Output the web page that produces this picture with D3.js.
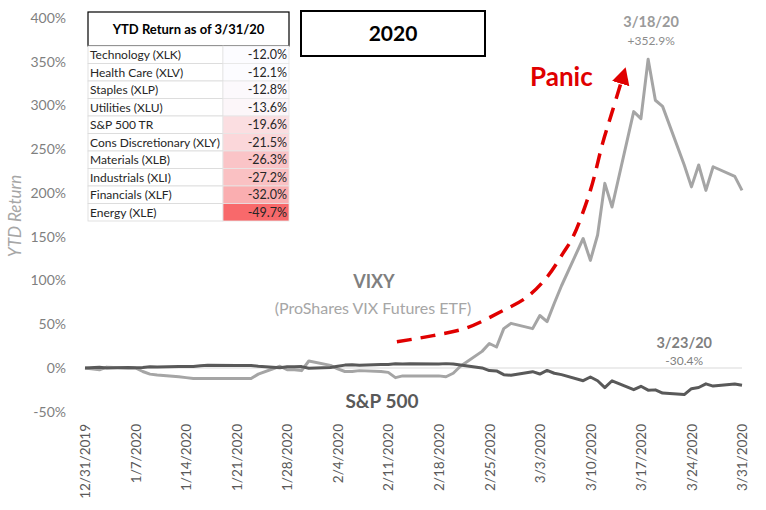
<!DOCTYPE html>
<html>
<head>
<meta charset="utf-8">
<script src="https://cdn.jsdelivr.net/npm/d3@7"></script>
<style>
body { margin: 0; background: #fff; }
svg text { font-family: Lato, "Open Sans", sans-serif; }
</style>
</head>
<body>
<svg id="chart" width="766" height="510"></svg>
<script>
// trading days, Q1 2020
const tradeDates = [
  "2019-12-31", "2020-01-02", "2020-01-03", "2020-01-06", "2020-01-07", "2020-01-08", "2020-01-09", "2020-01-10",
  "2020-01-13", "2020-01-14", "2020-01-15", "2020-01-16", "2020-01-17", "2020-01-21", "2020-01-22", "2020-01-23",
  "2020-01-24", "2020-01-27", "2020-01-28", "2020-01-29", "2020-01-30", "2020-01-31", "2020-02-03", "2020-02-04",
  "2020-02-05", "2020-02-06", "2020-02-07", "2020-02-10", "2020-02-11", "2020-02-12", "2020-02-13", "2020-02-14",
  "2020-02-18", "2020-02-19", "2020-02-20", "2020-02-21", "2020-02-24", "2020-02-25", "2020-02-26", "2020-02-27",
  "2020-02-28", "2020-03-02", "2020-03-03", "2020-03-04", "2020-03-05", "2020-03-06", "2020-03-09", "2020-03-10",
  "2020-03-11", "2020-03-12", "2020-03-13", "2020-03-16", "2020-03-17", "2020-03-18", "2020-03-19", "2020-03-20",
  "2020-03-23", "2020-03-24", "2020-03-25", "2020-03-26", "2020-03-27", "2020-03-30", "2020-03-31"
];
// YTD return, %
const vixyReturns = [
  0, -2, 1, 0, 0, -4, -7, -8,
  -10, -11, -12, -12, -12, -12, -12, -12,
  -7, 2, -2, -2, -3, 8, 3, -1,
  -4, -4, -3, -4, -5, -11, -9, -9,
  -9, -10, -6, 2, 19, 28, 24, 45,
  51, 45, 60, 53, 74, 94, 148, 123,
  152, 211, 184, 293, 285, 352.9, 306, 299,
  232, 207, 232, 203, 230, 219, 203
];
const spxReturns = [
  0, 0.8, 0.1, 0.5, 0.2, 0.7, 1.4, 1.1,
  1.8, 1.6, 1.8, 2.7, 3.1, 2.8, 2.8, 2.9,
  2.0, 0.4, 1.4, 1.3, 1.6, -0.2, 0.6, 2.1,
  3.3, 3.7, 3.1, 3.9, 4.1, 4.8, 4.6, 4.8,
  4.5, 5.0, 4.6, 3.5, 0.1, -2.9, -3.3, -7.6,
  -8.4, -4.2, -6.9, -2.8, -6.0, -7.6, -14.5, -10.3,
  -14.6, -22.4, -14.6, -24.8, -20.9, -25.3, -25.0, -28.7,
  -30.4, -23.6, -22.3, -18.1, -20.7, -18.2, -19.6
];

const tickLabels = ["12/31/2019", "1/7/2020", "1/14/2020", "1/21/2020", "1/28/2020", "2/4/2020", "2/11/2020",
  "2/18/2020", "2/25/2020", "3/3/2020", "3/10/2020", "3/17/2020", "3/24/2020", "3/31/2020"];
const yTicks = [-50, 0, 50, 100, 150, 200, 250, 300, 350, 400];

// sector table
const sectors = ["Technology (XLK)", "Health Care (XLV)", "Staples (XLP)", "Utilities (XLU)", "S&P 500 TR",
  "Cons Discretionary (XLY)", "Materials (XLB)", "Industrials (XLI)", "Financials (XLF)", "Energy (XLE)"];
const sectorReturns = [-12.0, -12.1, -12.8, -13.6, -19.6, -21.5, -26.3, -27.2, -32.0, -49.7];

// "panic" arrow, days after 12/31/19 and % level
const panicDays = [43.2, 48.2, 52.9, 57.5, 61.2, 64, 66.2, 67.6, 70, 71.7, 73.1, 74.2];
const panicValues = [30, 37, 46, 64, 81, 104, 131, 150, 203, 257, 295, 325];

const svg = d3.select("svg#chart");
const parseDay = d3.timeParse("%Y-%m-%d");
const parseTick = d3.timeParse("%m/%d/%Y");
const startDate = parseDay(tradeDates[0]);
const pct = d3.formatLocale({ decimal: ".", thousands: ",", grouping: [3], currency: ["", ""], minus: "-" }).format(".1f");

const x = d3.scaleTime()
  .domain([startDate, parseDay("2020-03-31")])
  .range([85, 742]);
const y = d3.scaleLinear().domain([-50, 400]).range([411.75, 18]);

const series = tradeDates.map((d, i) => ({ date: parseDay(d), vixy: vixyReturns[i], spx: spxReturns[i] }));

// y axis
svg.append("g")
  .attr("transform", "translate(85,0)")
  .call(d3.axisLeft(y).tickValues(yTicks).tickSize(0).tickPadding(19).tickFormat(d => d + "%"))
  .call(g => g.select(".domain").remove())
  .selectAll("text")
  .style("font-size", "14px")
  .attr("fill", "#7f7f7f");

svg.append("text")
  .attr("transform", "translate(21,216) rotate(-90)")
  .attr("text-anchor", "middle")
  .style("font-size", "17px")
  .style("font-style", "italic")
  .attr("fill", "#a6a6a6")
  .text("YTD Return");

// x axis
svg.append("g")
  .attr("transform", "translate(0,420)")
  .call(d3.axisBottom(x).tickValues(tickLabels.map(parseTick)).tickSize(0).tickFormat((d, i) => tickLabels[i]))
  .call(g => g.select(".domain").remove())
  .selectAll("text")
  .attr("transform", "rotate(-90)")
  .attr("x", -4)
  .attr("y", 0)
  .attr("dy", "0.35em")
  .style("text-anchor", "end")
  .style("font-size", "13.5px")
  .attr("fill", "#595959");

// zero line
svg.append("line")
  .attr("x1", x.range()[0]).attr("x2", x.range()[1])
  .attr("y1", y(0)).attr("y2", y(0))
  .attr("stroke", "#d9d9d9")
  .attr("stroke-width", 1);

// lines
const vixyLine = d3.line().x(d => x(d.date)).y(d => y(d.vixy));
const spxLine = d3.line().x(d => x(d.date)).y(d => y(d.spx));
svg.append("path").datum(series)
  .attr("d", vixyLine)
  .attr("fill", "none")
  .attr("stroke", "#a5a5a5")
  .attr("stroke-width", 3)
  .attr("stroke-linejoin", "round");
svg.append("path").datum(series)
  .attr("d", spxLine)
  .attr("fill", "none")
  .attr("stroke", "#595959")
  .attr("stroke-width", 3)
  .attr("stroke-linejoin", "round");

// panic arrow
const red = "#e00000";
svg.append("defs").append("marker")
  .attr("id", "arrow")
  .attr("markerUnits", "userSpaceOnUse")
  .attr("viewBox", "0 -9 17 18")
  .attr("refX", 0).attr("refY", 0)
  .attr("markerWidth", 17).attr("markerHeight", 18)
  .attr("orient", "auto")
  .append("path")
  .attr("d", "M0,-9L17,0L0,9Z")
  .attr("fill", red);

const panicPts = panicDays.map((d, i) => [x(new Date(startDate.getTime() + d * 864e5)), y(panicValues[i])]);
svg.append("path")
  .attr("d", d3.line().curve(d3.curveCatmullRom)(panicPts))
  .attr("fill", "none")
  .attr("stroke", red)
  .attr("stroke-width", 3.5)
  .attr("stroke-dasharray", "15,9")
  .attr("marker-end", "url(#arrow)");

svg.append("text")
  .attr("x", 530).attr("y", 86)
  .style("font-size", "26px").style("font-weight", "bold")
  .attr("fill", red)
  .text("Panic");

// series labels
svg.append("text")
  .attr("x", 374).attr("y", 288)
  .attr("text-anchor", "middle")
  .style("font-size", "18px").style("font-weight", "bold")
  .attr("fill", "#7f7f7f")
  .text("VIXY");
svg.append("text")
  .attr("x", 373).attr("y", 314)
  .attr("text-anchor", "middle")
  .style("font-size", "16px")
  .attr("fill", "#a6a6a6")
  .text("(ProShares VIX Futures ETF)");
svg.append("text")
  .attr("x", 382).attr("y", 408)
  .attr("text-anchor", "middle")
  .style("font-size", "19px").style("font-weight", "bold")
  .attr("fill", "#595959")
  .text("S&P 500");

// peak / trough notes
const peakDate = parseDay("2020-03-18");
svg.append("text")
  .attr("x", x(peakDate) + 3).attr("y", 27)
  .attr("text-anchor", "middle")
  .style("font-size", "14.5px").style("font-weight", "bold")
  .attr("fill", "#9a9a9a")
  .text("3/18/20");
svg.append("text")
  .attr("x", x(peakDate) + 3).attr("y", 45)
  .attr("text-anchor", "middle")
  .style("font-size", "12px")
  .attr("fill", "#8c8c8c")
  .text("+352.9%");
const lowDate = parseDay("2020-03-23");
svg.append("text")
  .attr("x", x(lowDate)).attr("y", 348)
  .attr("text-anchor", "middle")
  .style("font-size", "14.5px").style("font-weight", "bold")
  .attr("fill", "#7f7f7f")
  .text("3/23/20");
svg.append("text")
  .attr("x", x(lowDate)).attr("y", 365)
  .attr("text-anchor", "middle")
  .style("font-size", "12px")
  .attr("fill", "#7f7f7f")
  .text("-30.4%");

// 2020 box
svg.append("rect")
  .attr("x", 301).attr("y", 11).attr("width", 184).attr("height", 45)
  .attr("fill", "#fff").attr("stroke", "#000").attr("stroke-width", 2);
svg.append("text")
  .attr("x", 393).attr("y", 41)
  .attr("text-anchor", "middle")
  .style("font-size", "21px").style("font-weight", "bold")
  .attr("fill", "#000")
  .text("2020");

// table
const tableX = 88, labelW = 135, valueW = 66, headerY = 12, headerH = 34, rowH = 17.5;
const heat = d3.scaleLinear().domain([d3.min(sectorReturns), d3.max(sectorReturns)]).range(["#f8696b", "#fcfcff"]);
const table = svg.append("g");
table.append("rect")
  .attr("x", tableX).attr("y", headerY).attr("width", labelW + valueW).attr("height", headerH)
  .attr("fill", "#fff").attr("stroke", "#000").attr("stroke-width", 1.2);
table.append("text")
  .attr("x", tableX + (labelW + valueW) / 2).attr("y", headerY + 22)
  .attr("text-anchor", "middle")
  .style("font-size", "13px").style("font-weight", "bold")
  .attr("fill", "#000")
  .text("YTD Return as of 3/31/20");

const rows = table.selectAll("g.row")
  .data(sectors)
  .join("g")
  .attr("class", "row")
  .attr("transform", (d, i) => `translate(${tableX}, ${headerY + headerH + i * rowH})`);
rows.append("rect")
  .attr("width", labelW).attr("height", rowH)
  .attr("fill", "#fff").attr("stroke", "#d9d9d9").attr("stroke-width", 0.8);
rows.append("rect")
  .attr("x", labelW).attr("width", valueW).attr("height", rowH)
  .attr("fill", (d, i) => heat(sectorReturns[i])).attr("stroke", "#e6e6e6").attr("stroke-width", 0.8);
rows.append("text")
  .attr("x", 2).attr("y", 13)
  .style("font-size", "12px")
  .attr("fill", "#262626")
  .text(d => d);
rows.append("text")
  .attr("x", labelW + valueW - 2).attr("y", 13)
  .attr("text-anchor", "end")
  .style("font-size", "12.5px")
  .attr("fill", "#262626")
  .text((d, i) => pct(sectorReturns[i]) + "%");
</script>
</body>
</html>
